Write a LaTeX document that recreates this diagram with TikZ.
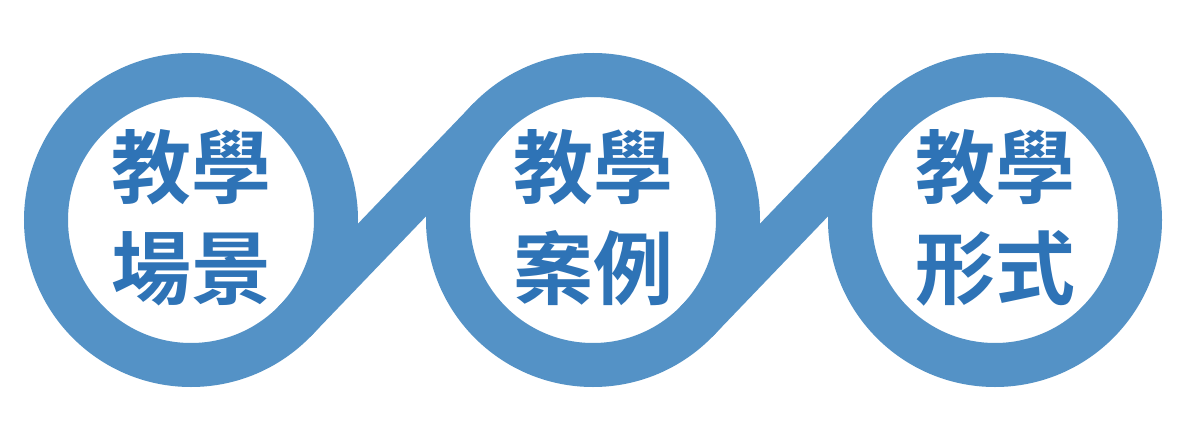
\documentclass[tikz,border=0pt]{standalone}
\usepackage{fontspec}
\newfontfamily\cjk{Noto Sans CJK TC}[UprightFont={* Bold}]
\usetikzlibrary{calc}
\definecolor{ringblue}{RGB}{84,146,198}
\definecolor{textblue}{RGB}{46,115,182}
\tikzset{
  ring/.style={circle, draw=ringblue, line width=44pt, minimum size=290pt, inner sep=0pt},
  band/.style={draw=ringblue, line width=44pt, line cap=butt, shorten <=-2pt, shorten >=-2pt},
  ringtext/.style={text=textblue, align=center, inner sep=0pt,
    font=\cjk\fontsize{80pt}{101pt}\selectfont}
}
\begin{document}
\begin{tikzpicture}[x=1pt,y=-1pt]
\useasboundingbox[fill=white] (0,0) rectangle (1200,425);
% rings
\node[ring] (r1) at (191,220) {};
\node[ring] (r2) at (593,220) {};
\node[ring] (r3) at (995,220) {};
% tangent points of the connecting bands
\coordinate (a1) at ($(r1.center)+(104.6,100.4)$);
\coordinate (b2) at ($(r2.center)+(-104.6,-100.4)$);
\coordinate (a2) at ($(r2.center)+(104.6,100.4)$);
\coordinate (b3) at ($(r3.center)+(-104.6,-100.4)$);
\draw[band] (a1) -- (b2);
\draw[band] (a2) -- (b3);
% texts
\node[ringtext] (t1) at ($(r1.center)+(0,-2)$) {教學\\場景};
\node[ringtext] (t2) at ($(r2.center)+(0,-2)$) {教學\\案例};
\node[ringtext] (t3) at ($(r3.center)+(0,-2)$) {教學\\形式};
\end{tikzpicture}
\end{document}
